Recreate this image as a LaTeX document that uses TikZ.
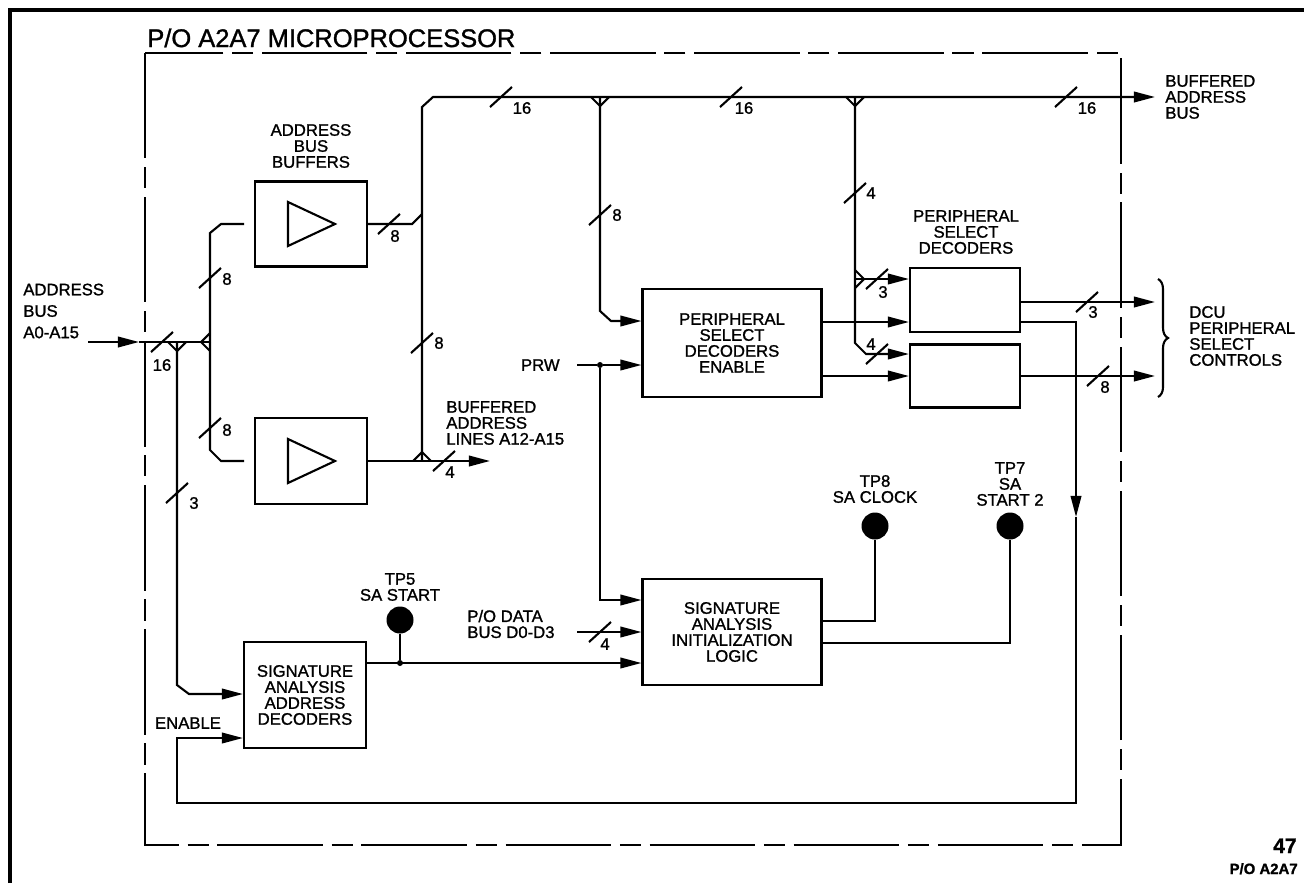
\documentclass[tikz,border=0pt]{standalone}
\usepackage{fontspec}
\setmainfont{Liberation Sans}[FakeBold=1.2]
\usetikzlibrary{arrows.meta,decorations.pathreplacing}

% bus width mark: name, slash position, label position, label
\newcommand{\buswidth}[4]{%
  \draw[wire] (#2) ++(-11,10) -- ++(22,-20);
  \node (#1) at (#3) {#4};}

\begin{document}
\begin{tikzpicture}[x=0.02cm, y=-0.02cm,
    every node/.style={font=\fontsize{9.5}{9.1}\selectfont, inner sep=0pt},
    wire/.style={line width=1.2pt},
    arr/.style={wire, -{Triangle[length=12pt, width=6pt]}},
    blk/.style={draw, line width=1.2pt, align=center},
    tpt/.style={circle, fill, minimum size=0.54cm},
    jdot/.style={circle, fill, minimum size=0.12cm},
    frame/.style={line width=1.4pt, dash pattern=on 60pt off 5pt on 12pt off 5pt}]
\useasboundingbox (0,0) rectangle (1304,883);

% frames
\draw[line width=1.8pt] (10,883) -- (10,10) -- (1304,10);
\draw[frame] (145,53) rectangle (1121,845);
\node[anchor=base west, font=\fontsize{14.5}{16}\selectfont] (title) at (147,47) {P/O A2A7 MICROPROCESSOR};

% blocks
\node[blk, minimum width=2.24cm, minimum height=1.70cm] (bufA) at (311,224) {};
\node[blk, minimum width=2.24cm, minimum height=1.72cm] (bufB) at (311,461) {};
\node[blk, minimum width=3.58cm, minimum height=2.16cm] (psde) at (732,343) {PERIPHERAL\\SELECT\\DECODERS\\ENABLE};
\node[blk, minimum width=2.20cm, minimum height=1.28cm] (psdA) at (965,300) {};
\node[blk, minimum width=2.20cm, minimum height=1.26cm] (psdB) at (965,376) {};
\node[blk, minimum width=3.58cm, minimum height=2.12cm] (sail) at (732,632) {SIGNATURE\\ANALYSIS\\INITIALIZATION\\LOGIC};
\node[blk, minimum width=2.44cm, minimum height=2.12cm] (saad) at (305,695) {SIGNATURE\\ANALYSIS\\ADDRESS\\DECODERS};

% buffer symbols
\draw[wire] (bufA.center) ++(-23,-22) -- ++(47,22) -- ++(-47,22) -- cycle;
\draw[wire] (bufB.center) ++(-23,-22) -- ++(47,22) -- ++(-47,22) -- cycle;

% labels
\node[align=center] (bufl) at (311,146) {ADDRESS\\BUS\\BUFFERS};
\node[align=left, anchor=west, font=\fontsize{9.5}{12.2}\selectfont] (abl) at (23,311) {ADDRESS\\BUS\\A0-A15};
\node[align=left, anchor=west] (bal) at (446,423) {BUFFERED\\ADDRESS\\LINES A12-A15};
\node[anchor=east] (prwl) at (560,365) {PRW};
\node[align=left, anchor=west] (babl) at (1165,97) {BUFFERED\\ADDRESS\\BUS};
\node[align=center] (psdl) at (966,232) {PERIPHERAL\\SELECT\\DECODERS};
\node[align=left, anchor=west] (dcul) at (1189,336) {DCU\\PERIPHERAL\\SELECT\\CONTROLS};
\node[align=center] (tp8l) at (875,489) {TP8\\SA CLOCK};
\node[align=center] (tp7l) at (1010,484) {TP7\\SA\\START 2};
\node[align=center] (tp5l) at (400,587) {TP5\\SA START};
\node[align=left, anchor=west] (dbl) at (467,624) {P/O DATA\\BUS D0-D3};
\node (enl) at (188,723) {ENABLE};
\node[anchor=base east, font=\bfseries\fontsize{12}{13}\selectfont] (pg) at (1297,853) {47};
\node[anchor=base east, font=\bfseries\fontsize{8.5}{9}\selectfont] (pgl) at (1298,874) {P/O A2A7};

% test points and junctions
\node[tpt] (tp5) at (400,620) {};
\node[tpt] (tp8) at (875,526) {};
\node[tpt] (tp7) at (1010,526) {};
\node[jdot] (jprw) at (600,365) {};
\node[jdot] (jsa) at (400,663) {};

\coordinate (abin) at (88,342);
\coordinate (abtip) at (139,342);
\coordinate (jA) at (177,342);
\coordinate (jB) at (210,342);
\coordinate (bAin) at (244,224);
\coordinate (bBin) at (244,461);
\coordinate (jC) at (422,461);
\coordinate (bltip) at (490,461);
\coordinate (f4) at (600,97);
\coordinate (f5) at (855,97);
\coordinate (f6) at (855,279);
\coordinate (tipx) at (1155,0);
\coordinate (prwin) at (577,365);
\coordinate (dbin) at (577,632);
\coordinate (fbtip) at (1076,517);
\coordinate (sain) at (189,694);
\coordinate (en) at (177,738);
\coordinate (pin1) at (611,321);
\coordinate (pin4) at (866,354);
\coordinate (sin1) at (600,600);
\coordinate (r1) at (0,322);
\coordinate (r2) at (0,376);
\coordinate (r3) at (0,302);
\coordinate (r5) at (0,663);
\coordinate (o8) at (875,621);
\coordinate (o7) at (1010,643);

% address bus in
\draw[arr] (abin) -- (abtip);
\draw[wire] (abtip) -- (jB);
\draw[wire] (jB) -- (210,233) -- (221,224) -- (bAin);
\draw[wire] (jB) -- (210,450) -- (221,461) -- (bBin);
\draw[arr] (jA) -- (177,685) -- (sain) -- (sain -| saad.west);

% buffered bus
\draw[arr] (jC) -- (422,107) -- (433,97) -- (f5 -| tipx);
\draw[wire] (bufA.east) -- (412,224) -- (422,214);
\draw[arr] (bufB.east) -- (bltip);

% peripheral select
\draw[arr] (f4) -- (600,311) -- (pin1) -- (pin1 -| psde.west);
\draw[wire] (prwin) -- (jprw);
\draw[arr] (jprw) -- (jprw -| psde.west);
\draw[arr] (jprw) -- (sin1) -- (sin1 -| sail.west);
\draw[arr] (f6) -- (f6 -| psdA.west);
\draw[arr] (f5) -- (855,343) -- (pin4) -- (pin4 -| psdB.west);
\draw[arr] (r1 -| psde.east) -- (r1 -| psdA.west);
\draw[arr] (r2 -| psde.east) -- (r2 -| psdB.west);
\draw[arr] (r3 -| psdA.east) -- (r3 -| tipx);
\draw[arr] (r2 -| psdB.east) -- (r2 -| tipx);
\draw[wire, decorate, decoration={brace, amplitude=0.2cm}] (1158,279) -- (1158,397);

% enable feedback
\draw[arr] (r1 -| psdA.east) -- (1076,322) -- (fbtip);
\draw[arr] (fbtip) -- (1076,803) -- (177,803) -- (en) -- (en -| saad.west);

% signature analysis
\draw[arr] (r5 -| saad.east) -- (r5 -| sail.west);
\draw[wire] (tp5) -- (jsa);
\draw[arr] (dbin) -- (dbin -| sail.west);
\draw[wire] (o8 -| sail.east) -- (o8) -- (tp8);
\draw[wire] (o7 -| sail.east) -- (o7) -- (tp7);

% bus forks
\draw[wire] (210,333) -- (201,342) -- (210,351);
\draw[wire] (168,342) -- (177,351) -- (186,342);
\draw[wire] (413,461) -- (422,452) -- (431,461);
\draw[wire] (591,97) -- (600,106) -- (609,97);
\draw[wire] (846,97) -- (855,106) -- (864,97);
\draw[wire] (855,270) -- (864,279) -- (855,288);

% bus widths
\buswidth{w1}{162,342}{162,365}{16}
\buswidth{w2}{210,278}{227,279}{8}
\buswidth{w3}{210,428}{227,430}{8}
\buswidth{w4}{177,493}{194,503}{3}
\buswidth{w5}{389,224}{395,236}{8}
\buswidth{w6}{422,343}{439,343}{8}
\buswidth{w7}{444,461}{450,472}{4}
\buswidth{w8}{501,97}{522,108}{16}
\buswidth{w9}{600,215}{617,215}{8}
\buswidth{w10}{731,97}{744,108}{16}
\buswidth{w11}{855,193}{871,193}{4}
\buswidth{w12}{1066,97}{1087,108}{16}
\buswidth{w13}{877,279}{883,292}{3}
\buswidth{w14}{877,354}{871,344}{4}
\buswidth{w15}{1087,302}{1093,312}{3}
\buswidth{w16}{1098,376}{1105,387}{8}
\buswidth{w17}{600,632}{605,644}{4}
\end{tikzpicture}
\end{document}
